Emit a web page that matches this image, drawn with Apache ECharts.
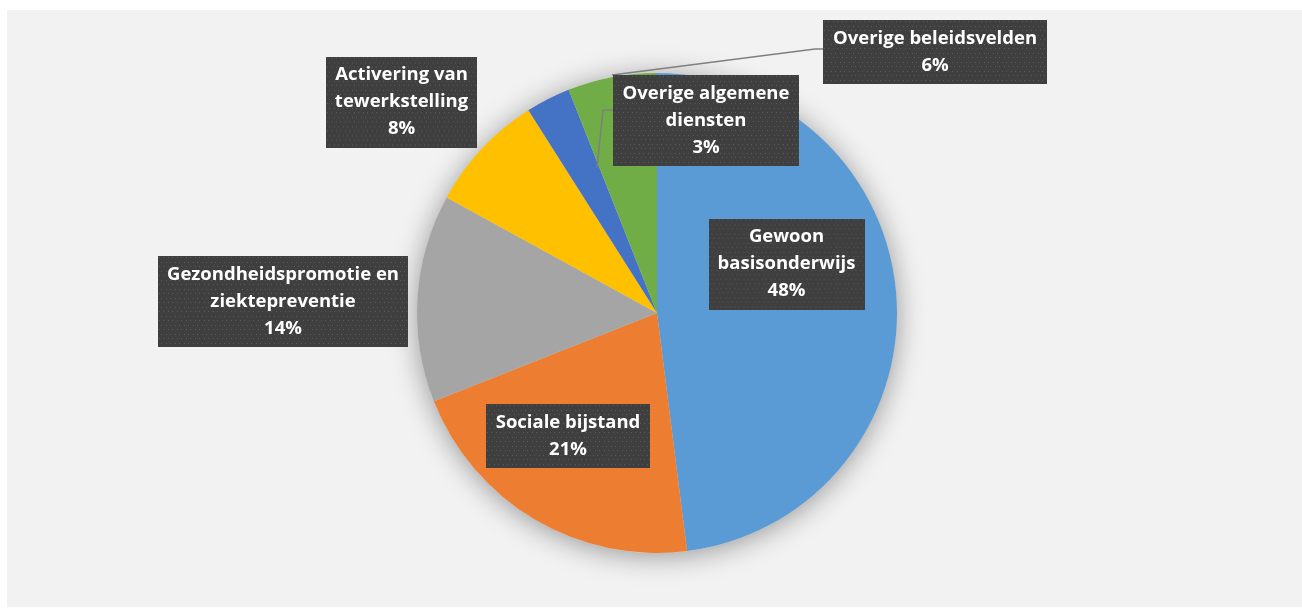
<!DOCTYPE html>
<html>
<head>
<meta charset="utf-8">
<script src="https://cdn.jsdelivr.net/npm/echarts@6/dist/echarts.min.js"></script>
<style>
  html, body { margin: 0; padding: 0; background: #ffffff; }
  #chart { position: absolute; left: 7px; top: 10px; width: 1295px; height: 597px; background: #f2f2f2; }
</style>
</head>
<body>
<div id="chart"></div>
<script>
// ---- data ----
const categories = [
  'Gewoon basisonderwijs',
  'Sociale bijstand',
  'Gezondheidspromotie en ziektepreventie',
  'Activering van tewerkstelling',
  'Overige algemene diensten',
  'Overige beleidsvelden'
];
const labelNames = [
  'Gewoon\nbasisonderwijs',
  'Sociale bijstand',
  'Gezondheidspromotie en\nziektepreventie',
  'Activering van\ntewerkstelling',
  'Overige algemene\ndiensten',
  'Overige beleidsvelden'
];
const values = [48, 21, 14, 8, 3, 6];
const colors = ['#5b9bd5', '#ed7d31', '#a5a5a5', '#ffc000', '#4472c4', '#70ad47'];

// ---- label layout (canvas coords: page minus 7,10) ----
const OX = 7, OY = 10;
const labelBoxes = [ // [centerX, centerY, boxWidth, boxHeight] in page coords
  [786.5, 264, 156, 90],
  [568, 436, 164, 64],
  [283, 301.5, 250, 91],
  [401.5, 102, 151, 90],
  [706, 120.5, 186, 91],
  [935, 52, 224, 64]
];
const labelLinePts = [
  null, null, null, null,
  [[597, 168], [603, 110], [613, 110]],
  [[612, 75], [815, 49], [823, 49]]
];

function makeTexture(w, h) {
  const c = document.createElement('canvas');
  c.width = Math.round(w); c.height = Math.round(h);
  const ctx = c.getContext('2d');
  ctx.fillStyle = '#3f3f3f';
  ctx.fillRect(0, 0, c.width, c.height);
  ctx.fillStyle = '#5a5a5a';
  for (let y = 1, r = 0; y < c.height; y += 4.5, r++) {
    for (let x = (r % 2) ? 3 : 0.75; x < c.width; x += 4.5) {
      ctx.fillRect(Math.round(x), Math.round(y), 1, 1);
    }
  }
  return c;
}

const chart = echarts.init(document.getElementById('chart'));

const pieData = categories.map((name, i) => ({
  name: name,
  value: values[i],
  itemStyle: { color: colors[i] },
  label: {
    width: labelBoxes[i][2] - 14,
    backgroundColor: { image: makeTexture(labelBoxes[i][2], labelBoxes[i][3]) }
  },
  labelLine: { show: i === 5 }
}));

// leader line for a label whose line lies over a later slice: drawn on top
const overlayLines = labelLinePts
  .map((pts, i) => (pts && i !== 5) ? {
    type: 'polyline',
    z: 50,
    silent: true,
    shape: { points: pts.map(p => [p[0] - OX, p[1] - OY]) },
    style: { stroke: '#7f7f7f', lineWidth: 1.5, fill: null }
  } : null)
  .filter(Boolean);

const option = {
  backgroundColor: '#f2f2f2',
  animation: false,
  graphic: overlayLines,
  series: [
    {
      type: 'pie',
      silent: true,
      center: [657 - OX, 313 - OY],
      radius: 240,
      z: 1,
      label: { show: false },
      labelLine: { show: false },
      itemStyle: {
        color: '#d9d9d9',
        shadowBlur: 28,
        shadowColor: 'rgba(0,0,0,0.38)',
        shadowOffsetY: 3
      },
      data: [{ name: 'shadow', value: 1 }]
    },
    {
      type: 'pie',
      center: [657 - OX, 313 - OY],
      radius: 240,
      startAngle: 90,
      clockwise: true,
      avoidLabelOverlap: false,
      z: 2,
      itemStyle: { borderWidth: 0 },
      label: {
        show: true,
        position: 'outside',
        formatter: (p) => labelNames[p.dataIndex] + '\n' + p.percent.toFixed(0) + '%',
        color: '#ffffff',
        fontFamily: 'Open Sans',
        fontWeight: 'bold',
        fontSize: 18.5,
        lineHeight: 27,
        align: 'center',
        padding: [5, 7],
        overflow: 'none',
        shadowColor: 'rgba(0,0,0,0.45)',
        shadowBlur: 4,
        shadowOffsetX: 2,
        shadowOffsetY: 3
      },
      labelLine: {
        lineStyle: { color: '#7f7f7f', width: 1.5 },
        smooth: false
      },
      labelLayout: function (params) {
        const i = params.dataIndex;
        const b = labelBoxes[i];
        const res = {
          x: b[0] - OX,
          y: b[1] - OY,
          align: 'center',
          verticalAlign: 'middle'
        };
        if (labelLinePts[i]) {
          res.labelLinePoints = labelLinePts[i].map(p => [p[0] - OX, p[1] - OY]);
        }
        return res;
      },
      data: pieData
    }
  ]
};
chart.setOption(option);
</script>
</body>
</html>
